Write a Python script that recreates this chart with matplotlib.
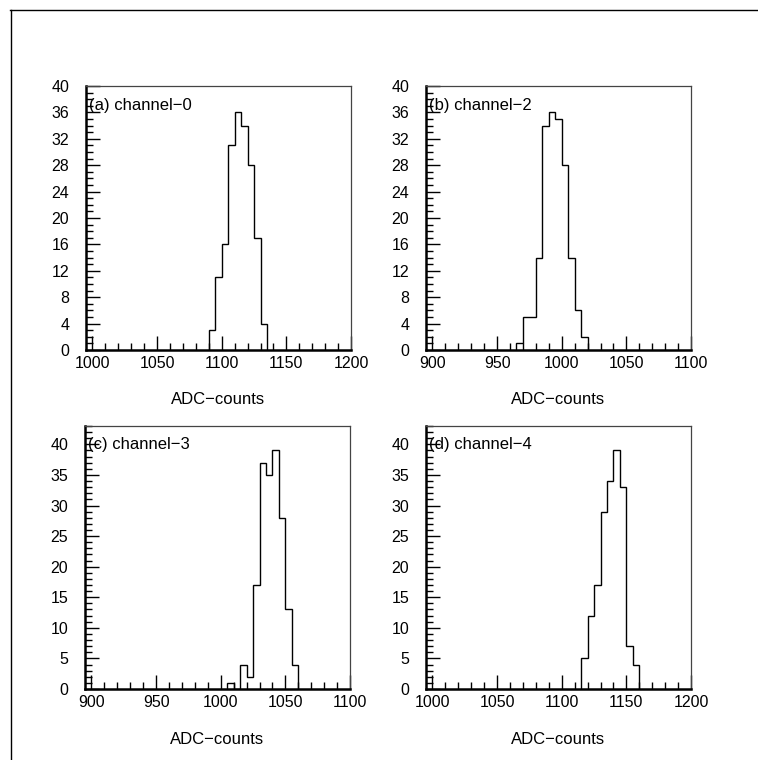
import numpy as np
import matplotlib
matplotlib.use("Agg")
import matplotlib.pyplot as plt
from matplotlib.lines import Line2D
from matplotlib.ticker import MultipleLocator

plt.rcParams['font.family'] = ['Liberation Sans', 'DejaVu Sans']

BIN = 5
# channel-0 (a)
a_edge0 = 1090
a_counts = [3, 11, 16, 31, 36, 34, 28, 17, 4]
# channel-2 (b)
b_edge0 = 965
b_counts = [1, 5, 5, 14, 34, 36, 35, 28, 14, 6, 2]
# channel-3 (c)
c_edge0 = 1005
c_counts = [1, 0, 4, 2, 17, 37, 35, 39, 28, 13, 4]
# channel-4 (d)
d_edge0 = 1115
d_counts = [5, 12, 17, 29, 34, 39, 33, 7, 4]

labels = ["(a) channel\u22120", "(b) channel\u22122", "(c) channel\u22123", "(d) channel\u22124"]
xlims = [(995, 1200), (895, 1100), (895, 1100), (995, 1200)]
xticks = [[1000, 1050, 1100, 1150, 1200], [900, 950, 1000, 1050, 1100],
          [900, 950, 1000, 1050, 1100], [1000, 1050, 1100, 1150, 1200]]
ylims = [(0, 40), (0, 40), (0, 43), (0, 43)]
ymajor = [4, 4, 5, 5]
xlabel = "ADC\u2212counts"

W, H = 758, 760
fig = plt.figure(figsize=(W / 100, H / 100), dpi=100)

# pixel boxes: left, top, right, bottom
boxes = [(86, 86, 351, 350), (426, 86, 691, 350), (85, 426, 350, 689), (426, 426, 691, 689)]

datasets = [(a_edge0, a_counts), (b_edge0, b_counts), (c_edge0, c_counts), (d_edge0, d_counts)]

for i, (box, (e0, cnt)) in enumerate(zip(boxes, datasets)):
    l, t, r, b = box
    ax = fig.add_axes([l / W, 1 - b / H, (r - l) / W, (b - t) / H])
    cnt = np.array(cnt, dtype=float)
    edges = e0 + BIN * np.arange(len(cnt) + 1)
    ax.stairs(cnt, edges, color='black', linewidth=1.0, baseline=0)
    ax.set_xlim(*xlims[i])
    ax.set_ylim(*ylims[i])
    ax.set_xticks(xticks[i])
    ax.xaxis.set_minor_locator(MultipleLocator(10))
    ax.yaxis.set_major_locator(MultipleLocator(ymajor[i]))
    ax.yaxis.set_minor_locator(MultipleLocator(1))
    ax.tick_params(axis='both', which='both', direction='in', top=False, right=False,
                   color='black')
    ax.tick_params(axis='both', which='major', length=10, width=1.0, labelsize=11.5)
    ax.tick_params(axis='both', which='minor', length=5, width=1.0)
    ax.tick_params(axis='x', which='major', pad=4)
    ax.tick_params(axis='y', which='major', pad=12)
    for s in ['bottom', 'left']:
        ax.spines[s].set_linewidth(1.8)
        ax.spines[s].set_color('black')
    for s in ['top', 'right']:
        ax.spines[s].set_linewidth(0.9)
        ax.spines[s].set_color('#444444')
    ax.text(0.012, 0.928, labels[i], transform=ax.transAxes, fontsize=12,
            ha='left', va='center')
    ax.text(0.5, -50 / (b - t), xlabel, transform=ax.transAxes, fontsize=12,
            ha='center', va='center')

# outer frame (top and left edges visible)
fig.add_artist(Line2D([10 / W, 1.0], [1 - 10 / H, 1 - 10 / H], transform=fig.transFigure,
                      color='black', linewidth=1.0))
fig.add_artist(Line2D([11 / W, 11 / W], [1 - 10 / H, 0.0], transform=fig.transFigure,
                      color='black', linewidth=1.0))

fig.savefig("out.png", dpi=100)
